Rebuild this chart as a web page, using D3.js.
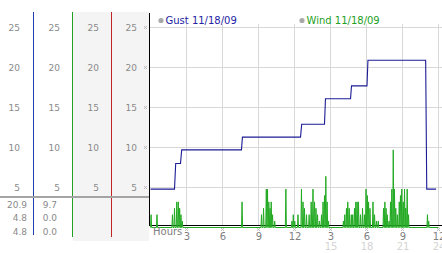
<!DOCTYPE html>
<html><head><meta charset="utf-8">
<script src="https://cdn.jsdelivr.net/npm/d3@7"></script>
<style>
body{margin:0;background:#fff;}
svg{display:block;font-family:"DejaVu Sans",Verdana,sans-serif;}
</style></head><body>
<svg id="c" width="442" height="253"></svg>
<script>
// ---- data ----
const yTicks = [5, 10, 15, 20, 25];
const hourTicks = [3, 6, 9, 12, 15, 18, 21, 24];
const hourLabels = ["3", "6", "9", "12", "3", "6", "9", "12"];
const hour24Ticks = [15, 18, 21, 24];
const hour24Labels = ["15", "18", "21", "24"];
const legendNames = ["Gust 11/18/09", "Wind 11/18/09"];
const gustStats = ["20.9", "4.8", "4.8"];
const windStats = ["9.7", "0.0", "0.0"];
const gustHours  = [0, 2.0, 2.1, 2.5, 2.6, 7.58, 7.66, 12.5, 12.6, 14.5, 14.58, 16.67, 16.75, 18.04, 18.12, 22.93, 23.02, 23.8];
const gustValues = [4.8, 4.8, 8.0, 8.0, 9.7, 9.7, 11.3, 11.3, 12.9, 12.9, 16.1, 16.1, 17.7, 17.7, 20.9, 20.9, 4.8, 4.8];
const windHours = [0.05,0.54,1.83,2.0,2.19,2.32,2.43,2.54,2.65,
  7.63,9.25,9.42,9.65,9.75,9.86,9.96,10.06,10.17,10.35,11.28,11.79,11.9,12.02,
  12.29,12.58,12.71,12.83,13.0,13.22,13.39,13.54,13.67,13.79,13.92,14.08,14.25,14.38,14.5,14.61,14.72,14.83,
  16.08,16.19,16.33,16.44,16.56,16.73,16.85,17.0,17.11,17.22,17.33,17.5,17.67,17.83,17.96,18.07,18.17,18.29,18.54,18.67,18.83,18.98,
  19.42,19.53,19.63,19.73,19.88,20.0,20.11,20.23,20.33,20.44,20.57,20.73,20.83,20.94,21.06,21.17,21.27,21.39,21.5,
  23.08,23.18];
const windValues = [1.6,1.6,1.6,2.4,3.2,3.2,2.4,1.6,0.8,
  3.2,1.6,2.4,4.8,4.8,3.2,2.4,3.2,1.6,0.8,4.8,0.8,1.6,0.8,
  1.6,4.8,3.2,2.4,1.6,1.6,3.2,4.8,3.2,2.4,1.6,0.8,1.6,3.2,4.0,6.4,3.2,0.8,
  0.8,1.6,2.4,3.2,2.4,1.6,1.6,2.4,3.2,3.2,3.2,1.6,2.4,1.6,4.8,4.0,3.2,2.4,3.2,1.6,0.8,0.8,
  2.4,3.2,2.4,1.6,0.8,3.2,4.8,9.7,4.8,2.4,1.6,3.2,4.0,4.8,3.2,4.8,2.4,4.8,1.6,
  1.6,0.8];

// ---- layout ----
const svg = d3.select("#c");
const x = d3.scaleLinear().domain([0, 24]).range([150.5, 438.5]);
const y = d3.scaleLinear().domain([0, 25]).range([227.5, 27.5]);

// left panel backgrounds
svg.append("rect").attr("x", 73).attr("y", 12).attr("width", 76).attr("height", 229).attr("fill", "#f4f4f4");
const colLines = [{x: 33.5, c: "#1f3fb0", y2: 235}, {x: 72.5, c: "#22a022", y2: 237}, {x: 111.5, c: "#c02424", y2: 237}];
colLines.forEach(d => svg.append("line").attr("x1", d.x).attr("x2", d.x).attr("y1", 12).attr("y2", d.y2)
  .attr("stroke", d.c).attr("stroke-width", 1));
const colRight = [20, 60, 99, 137];
colRight.forEach(r => {
  svg.append("g").selectAll("text").data(yTicks).join("text")
    .attr("x", r).attr("y", d => y(d)).attr("dy", "0.35em").attr("text-anchor", "end")
    .attr("font-size", 9).attr("fill", "#8a8a8a").text(d => d);
});
// separator
svg.append("line").attr("x1", 0).attr("x2", 149).attr("y1", 197).attr("y2", 197)
  .attr("stroke", "#a4a4a4").attr("stroke-width", 2);
const statY = [204.7, 218.3, 231.7];
svg.append("g").selectAll("text").data(gustStats).join("text")
  .attr("x", 27).attr("y", (d, i) => statY[i]).attr("dy", "0.35em").attr("text-anchor", "end")
  .attr("font-size", 9).attr("fill", "#8a8a8a").text(d => d);
svg.append("g").selectAll("text").data(windStats).join("text")
  .attr("x", 57).attr("y", (d, i) => statY[i]).attr("dy", "0.35em").attr("text-anchor", "end")
  .attr("font-size", 9).attr("fill", "#8a8a8a").text(d => d);

// grid
svg.append("g").selectAll("line").data(yTicks).join("line")
  .attr("x1", 150).attr("x2", 442).attr("y1", d => y(d)).attr("y2", d => y(d))
  .attr("stroke", "#d8d8d8");
svg.append("g").selectAll("line").data(hourTicks).join("line")
  .attr("x1", d => x(d)).attr("x2", d => x(d)).attr("y1", 24).attr("y2", 226)
  .attr("stroke", "#d8d8d8");

// tick markers (small glyphs)
function mark(g, cx, cy) {
  g.append("path").attr("d", `M${cx-1.5},${cy-1.5}L${cx+1.5},${cy+1.5}M${cx+1.5},${cy-1.5}L${cx-1.5},${cy+1.5}`)
    .attr("stroke", "#b0b0b0").attr("stroke-width", 0.8).attr("fill", "none");
}
const mk = svg.append("g");
yTicks.forEach(v => mark(mk, 145.5, y(v)));
hourTicks.forEach(h => mark(mk, x(h), 229.5));

// axes lines
svg.append("line").attr("x1", 149.5).attr("x2", 149.5).attr("y1", 13).attr("y2", 226).attr("stroke", "#000");
svg.append("line").attr("x1", 149).attr("x2", 442).attr("y1", 225.5).attr("y2", 225.5).attr("stroke", "#000");

// wind line
const windPts = [[0, 0]];
windHours.forEach((h, i) => { windPts.push([h - 0.045, 0], [h, windValues[i]], [h + 0.045, 0]); });
windPts.push([24, 0]);
const line = d3.line().x(d => x(d[0])).y(d => y(d[1]));
svg.append("path").attr("d", line(windPts)).attr("fill", "none").attr("stroke", "#22aa22").attr("stroke-width", 1);

// gust line
const gustPts = gustHours.map((h, i) => [h, gustValues[i]]);
svg.append("path").attr("d", line(gustPts)).attr("fill", "none").attr("stroke", "#1c1c96").attr("stroke-width", 1.1);

// x axis labels
const ax = d3.axisBottom(x).tickValues(hourTicks).tickFormat((d, i) => hourLabels[i]).tickSize(0).tickPadding(0);
const axg = svg.append("g").attr("transform", "translate(0,233)").call(ax);
axg.select(".domain").remove();
axg.selectAll("text").attr("font-size", 10).attr("fill", "#808080").attr("font-family", "DejaVu Sans, sans-serif");
const ax2 = d3.axisBottom(x).tickValues(hour24Ticks).tickFormat((d, i) => hour24Labels[i]).tickSize(0).tickPadding(0);
const axg2 = svg.append("g").attr("transform", "translate(0,242.5)").call(ax2);
axg2.select(".domain").remove();
axg2.selectAll("text").attr("font-size", 10).attr("fill", "#d4d4d4").attr("font-family", "DejaVu Sans, sans-serif");
svg.append("text").attr("x", 153).attr("y", 231).attr("dy", "0.35em").attr("font-size", 10)
  .attr("fill", "#808080").text("Hours");

// legends
const legX = [161, 302];
const legC = ["#2424a4", "#22a022"];
legendNames.forEach((n, i) => {
  svg.append("circle").attr("cx", legX[i]).attr("cy", 20.5).attr("r", 2.6).attr("fill", "#a8a8a8");
  svg.append("text").attr("x", legX[i] + 4.5).attr("y", 20.5).attr("dy", "0.35em")
    .attr("font-size", 10).attr("fill", legC[i]).text(n);
});
</script>
</body></html>
